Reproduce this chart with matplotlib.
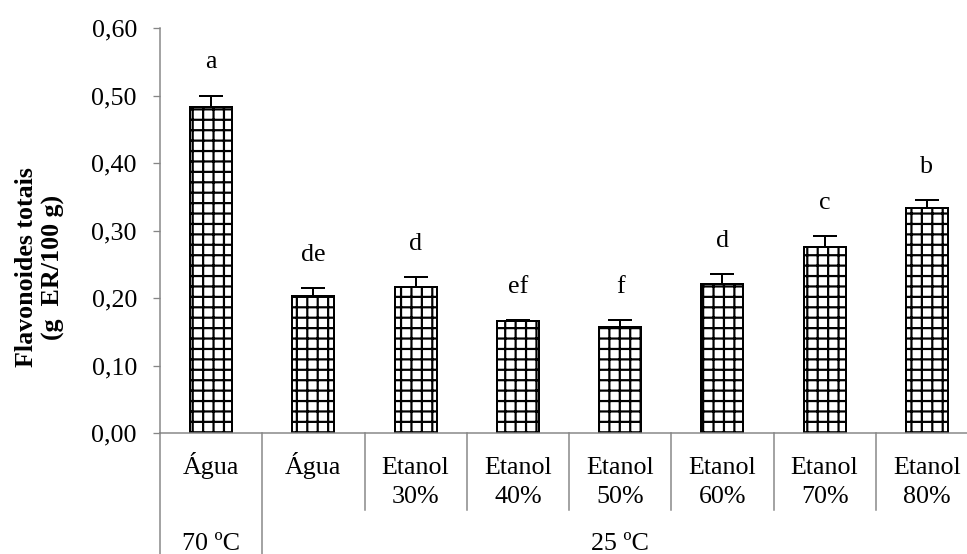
import matplotlib.pyplot as plt
import numpy as np

solvents = ["Água", "Água", "Etanol\n30%", "Etanol\n40%", "Etanol\n50%",
            "Etanol\n60%", "Etanol\n70%", "Etanol\n80%"]
groups = ["70 ºC", "25 ºC"]
group_sizes = [1, 7]
means = [0.483, 0.203, 0.216, 0.166, 0.157, 0.221, 0.276, 0.333]
errors = [0.017, 0.012, 0.015, 0.002, 0.010, 0.015, 0.016, 0.012]
letters = ["a", "de", "d", "ef", "f", "d", "c", "b"]
yticks = [0.0, 0.1, 0.2, 0.3, 0.4, 0.5, 0.6]

DPI = 125


def pt(px):
    return px * 72 / DPI


FS = pt(26)
plt.rcParams['font.family'] = ['Liberation Serif', 'DejaVu Serif']
plt.rcParams['hatch.linewidth'] = pt(2.2)

fig = plt.figure(figsize=(967 / DPI, 554 / DPI), dpi=DPI)
W, H = 967, 554
x0, x1, y0, y1 = 160, 978, 433, 28
ax = fig.add_axes([x0 / W, 1 - y0 / H, (x1 - x0) / W, (y0 - y1) / H])

n = len(means)
x = np.arange(n) + 0.5
ax.bar(x, means, width=0.41, color='white', edgecolor='black',
       linewidth=pt(2), hatch='++', zorder=2)
ax.errorbar(x, means, yerr=[np.zeros(n), errors], fmt='none', ecolor='black',
            elinewidth=pt(2), capsize=pt(12), capthick=pt(2), zorder=3)

for xi, m, e, lab in zip(x, means, errors, letters):
    ax.text(xi, m + e + 0.040, lab, ha='center', va='baseline', fontsize=FS)

ax.set_xlim(0, n)
ax.set_ylim(0, 0.6)
ax.set_yticks(yticks)
ax.set_yticklabels([f"{v:.2f}".replace('.', ',') for v in yticks])
ax.tick_params(axis='y', direction='out', length=pt(7), width=pt(1.3),
               color='#868686', labelsize=FS, pad=pt(16))
ax.set_xticks([])
for s in ['top', 'right']:
    ax.spines[s].set_visible(False)
for s in ['left', 'bottom']:
    ax.spines[s].set_color('#868686')
    ax.spines[s].set_linewidth(pt(1.5))

# two-level category axis, one text per line (baselines at 474 and 503 px)
trans = ax.get_xaxis_transform()
row_base = [-(474 - y0) / (y0 - y1), -(503 - y0) / (y0 - y1)]
for xi, lab in zip(x, solvents):
    for k, line in enumerate(lab.split('\n')):
        ax.text(xi, row_base[k], line, transform=trans, ha='center',
                va='baseline', fontsize=FS)

bounds = np.concatenate([[0], np.cumsum(group_sizes)])
for b in range(1, n):
    if b not in bounds:
        ax.plot([b, b], [0, -0.19], transform=trans, color='#868686',
                lw=pt(1.5), clip_on=False)
for b in bounds:
    ax.plot([b, b], [0, -0.31], transform=trans, color='#868686',
            lw=pt(1.5), clip_on=False)
for g, a, b in zip(groups, bounds[:-1], bounds[1:]):
    ax.text((a + b) / 2, -(550 - y0) / (y0 - y1), g, transform=trans,
            ha='center', va='baseline', fontsize=FS)

fig.text(40 / W, 1 - 267 / H, "Flavonoides totais\n(g  ER/100 g)", rotation=90,
         ha='center', va='center', fontsize=FS, fontweight='bold',
         multialignment='center', linespacing=1.2)

fig.savefig("out.png", dpi=DPI)
